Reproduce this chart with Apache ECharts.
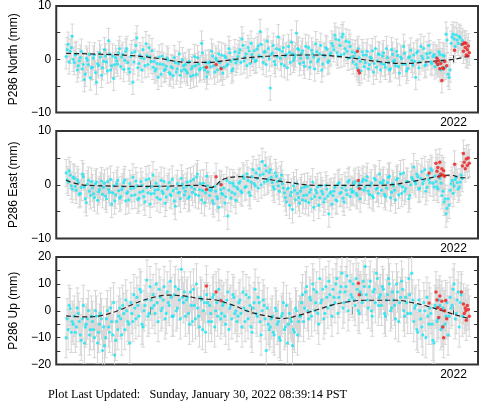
<!DOCTYPE html>
<html><head><meta charset="utf-8">
<script src="https://cdn.jsdelivr.net/npm/echarts@6/dist/echarts.min.js"></script>
<style>html,body{margin:0;padding:0;background:#fff}#c{width:481px;height:404px}</style>
</head><body><div id="c"></div>
<script>
// ---- axis data ----
const xMin = 2020.034, xMax = 2022.121;
const xTickValues = [2020.5, 2021, 2021.5, 2022];
const xTickLabels = [2022];
const yTicksNE = [-10, -5, 0, 5, 10];
const yLabelsNE = [-10, 0, 10];
const yTicksUp = [-20, -15, -10, -5, 0, 5, 10, 15, 20];
const yLabelsUp = [-20, -10, 0, 10, 20];
const panelNames = ['P286 North (mm)', 'P286 East (mm)', 'P286 Up (mm)'];
const footerText = 'Plot Last Updated:   Sunday, January 30, 2022 08:39:14 PST';

// ---- daily-solution samples, two interleaved sets (decimal year = start + index*step) ----
const sampleStart = 2020.083, sampleStart2 = 2020.088, sampleStep = 0.01;
const northVals = [0.5,2.8,1.5,4.3,
 -0.6,1.0,-1.2,0.3,-1.8,-3.8,0.2,-1.0,-3.5,
 -1.5,0.8,-4.3,-1.2,0.4,
 -1.6,1.8,-0.5,3.5,-2.0,0.6,-1.0,-0.3,1.2,
 -1.4,0.9,-0.2,2.0,-1.8,
 0.5,-4.3,1.4,4.0,-0.8,0.3,1.8,-1.2,0.7,2.2,-0.4,
 -1.5,-2.2,-0.8,0.4,-2.8,-1.0,-1.9,0.2,-2.5,-1.4,-3.1,-0.6,-1.8,1.0,-2.2,-1.2,
 -1.0,-2.6,-0.4,-1.8,-3.0,-1.2,0.3,-2.0,3.0,-1.5,-0.6,-2.4,
 -0.5,1.5,-1.2,0.2,-2.0,-0.6,0.8,
 -1.5,0.3,-0.9,1.2,-2.2,0.0,-0.7,
 0.5,1.8,3.8,-0.3,1.0,2.2,-0.8,0.9,1.6,-0.2,2.5,5.2,0.4,1.3,-1.0,2.0,
 -5.4,1.2,-0.4,2.0,4.2,0.2,1.5,-1.2,0.9,2.4,-0.6,1.0,0.3,4.9,1.8,
 0.2,1.6,-1.3,0.8,2.2,-0.5,1.0,-1.8,1.4,0.0,2.6,-0.9,0.6,1.9,-0.3,1.2,
 2.5,4.5,1.2,3.6,0.8,4.7,2.0,1.5,3.2,0.4,
 -0.5,1.2,-1.6,0.3,-2.2,0.8,
 -0.6,1.5,-1.0,0.2,-2.4,2.0,-0.3,0.9,
 -0.8,1.2,-1.5,0.3,-2.0,1.8,-0.4,-1.2,0.7,-2.6,0.1,2.4,-0.9,-1.7,0.5,-0.2,
 0.8,-3.4,1.5,-0.5,0.6,2.0,-1.0,0.3,1.2,-0.8,0.9,
 0.4,-1.0,0.9,-0.3,0.6,4.7,-2.8,
 -2.0,4.2,3.8,4.6,3.0,4.0,
 3.5,null,null,null,null];
const northVals2 = [1.8,-0.5,2.2,0.0,
 0.8,-2.0,-0.3,1.5,-1.0,-2.8,-0.2,0.9,-1.6,
 0.2,-2.5,-0.8,1.2,-3.0,
 -0.4,0.6,-2.2,1.0,-1.2,-3.6,0.3,-0.9,2.0,
 0.4,-1.9,1.5,-0.6,-2.4,
 1.2,-0.5,2.6,-1.6,0.8,-2.0,0.1,2.9,-1.0,0.4,1.6,
 -0.4,-1.8,-3.4,-0.9,0.6,-2.1,-1.3,-0.2,-2.8,-1.6,0.3,-2.4,-0.8,-3.0,-0.1,-1.9,
 -2.2,-0.6,-3.2,-1.4,0.5,-2.8,-0.9,-1.7,1.2,-2.0,-3.3,-0.7,
 -1.4,0.6,-2.4,-0.2,1.0,-1.6,-2.6,
 0.6,-1.2,2.0,-0.4,-1.8,1.4,-0.2,
 1.2,-0.6,2.6,0.4,-1.2,1.6,3.0,0.2,-0.4,1.9,0.7,2.8,-0.6,1.5,3.4,0.1,
 0.9,2.6,-1.0,0.5,1.8,-0.9,2.2,0.6,-1.6,1.3,3.2,-0.2,0.8,2.0,-0.8,
 1.1,-0.6,2.4,0.3,-1.5,1.7,0.4,2.9,-0.4,1.0,-2.0,0.8,2.2,-0.6,0.9,3.0,
 1.8,3.8,0.6,2.6,4.2,1.0,3.4,0.2,2.4,1.4,
 0.6,-1.0,2.0,-0.4,1.4,-1.4,
 0.8,-1.8,0.4,1.6,-0.8,-1.5,1.0,-2.0,
 0.6,-1.0,2.0,-0.6,-1.8,0.9,-0.2,1.5,-1.4,0.4,-0.9,1.1,-2.2,0.3,1.7,-1.1,
 -0.4,1.2,-1.6,2.4,0.1,-1.2,1.0,2.6,-0.5,0.5,-1.4,
 -0.6,1.4,-2.0,0.8,-1.5,3.6,-3.4,
 3.0,4.7,2.4,3.6,4.3,2.8,
 null,null,null,null];
const eastVals = [2.2,0.5,1.8,-0.8,
 1.2,-1.0,0.4,-1.6,2.0,-0.4,-3.3,0.8,-2.0,
 -0.6,-2.4,0.5,-1.3,-0.2,
 -1.8,0.3,-2.6,-0.9,1.0,-1.5,-3.0,0.2,-1.1,
 -2.2,-0.4,0.9,-1.6,-2.8,
 -0.7,1.4,-1.9,-0.2,-2.5,0.6,-1.2,-3.2,-0.5,1.1,-1.7,
 1.8,-1.0,-2.4,-0.3,0.8,-1.6,-3.4,-0.8,0.4,-2.0,-1.1,-4.0,0.2,-1.4,1.2,-0.6,
 -1.2,0.5,-2.2,-0.4,1.0,-1.8,2.0,-0.9,-2.8,0.3,-1.5,-0.2,
 -2.0,-0.8,-3.5,-1.2,-2.6,0.2,-1.6,
 -0.6,-2.2,-5.8,0.4,-1.4,-0.2,-2.9,
 -0.8,0.6,-1.5,1.2,-0.3,0.8,-2.0,1.5,0.2,2.2,-0.6,1.8,4.3,0.5,2.6,1.0,
 2.8,0.4,-0.8,1.6,-0.2,1.0,0.2,
 -1.5,-3.2,-0.6,-2.0,-4.6,-1.0,0.3,-2.4,
 -1.2,-2.8,-0.4,-1.9,-3.3,-0.9,0.5,-2.2,-1.5,-3.8,-0.2,-1.7,-2.6,-0.8,-5.4,-1.3,
 -2.0,-0.5,-3.0,0.4,-1.4,-2.5,-0.2,-1.8,0.8,-0.9,
 -1.2,0.6,-2.0,0.2,-0.8,1.0,
 -0.4,1.5,-1.8,0.3,-2.4,0.9,-0.6,2.0,
 -1.0,0.8,-2.2,0.4,1.6,-1.4,-0.2,-2.8,1.2,0.0,-1.6,2.2,-0.7,0.6,-2.0,1.4,
 3.3,0.2,1.5,-0.6,2.4,0.8,-1.2,1.8,0.4,2.6,-0.4,
 0.6,-0.8,1.2,-2.0,-3.2,-5.4,-2.6,
 -1.0,0.8,-0.2,1.4,-0.8,0.5,
 1.2,null,null,null,null];
const eastVals2 = [0.9,2.6,-0.2,1.4,
 -0.3,0.9,-1.8,-0.5,1.5,-2.6,0.1,-1.2,0.6,
 -1.7,0.2,-2.9,-0.9,0.7,
 -0.5,-2.1,0.6,-1.4,-3.6,-0.2,-1.9,0.8,-2.5,
 -0.9,0.4,-3.0,-1.3,0.2,
 -2.0,-0.6,0.7,-2.8,-1.4,-0.1,-2.2,0.9,-1.5,-3.6,-0.3,
 -1.6,0.3,-0.9,-2.7,-1.2,0.6,-2.3,-0.4,-1.8,1.0,-3.0,-0.7,-1.5,-2.6,0.1,-1.9,
 -0.3,-2.5,0.7,-1.4,-0.8,1.4,-2.0,0.2,-1.1,-3.3,1.6,-0.9,
 -1.1,-3.0,-0.3,-2.2,-4.2,-0.9,-1.8,
 -3.4,0.8,-1.0,-2.5,0.3,-1.7,-0.5,
 0.3,-1.2,1.6,-0.5,2.0,-1.4,0.5,2.8,-0.2,1.2,3.0,0.0,2.0,3.6,0.7,2.3,
 1.4,-0.4,2.2,0.6,-1.2,1.8,-0.6,
 -2.4,-0.8,-3.8,-1.4,-0.2,-2.8,-1.6,-3.4,
 -0.6,-2.0,-3.0,-0.3,-1.4,-2.6,-4.2,-1.0,-0.4,-2.4,-1.2,-3.2,-0.1,-2.1,-1.6,-3.6,
 -1.2,-2.8,0.1,-1.6,-0.6,-3.2,-1.0,0.5,-2.2,-1.4,
 0.2,-1.6,-0.4,-2.6,0.6,-1.0,
 0.8,-1.2,-0.2,-2.0,1.2,-0.8,-1.6,0.4,
 0.3,-1.8,-0.6,1.4,-2.4,0.2,-1.0,0.9,-1.9,2.0,-0.4,-1.2,0.6,-2.6,0.0,1.0,
 0.6,2.0,-0.8,1.2,0.2,2.8,-0.5,1.0,3.0,0.3,1.6,
 -0.4,1.8,0.3,-1.2,-2.6,-4.4,-3.8,
 0.2,-1.6,1.0,0.4,-0.4,1.8,
 null,null,null,null];
const upVals = [-10,-7,0.8,-4,
 -2,-6,-1,-9,-3,-12,-5,0,-7,
 -4,-10,-2,-8,-1,
 -14.8,-13,-3,-6,1,-9,-16.5,-4,-2,
 -3,2,-7,0,-5,
 3,-4,1,5,-2,7,-6,2,11.4,-1,4,
 6,-1,3,8,0,4,-3,7,2,5,-2,9,1,4,15.4,3,
 -2,5,-5,2,8,-3,1,-6,4,0,-8,3,
 2,-4,6,0,-2,4,-1,
 3,-5,7,1,-3,5,0,
 -2,4,-6,1,6,-3,2,-8,3,-1,5,-4,0,2,-14.8,-5,
 -6,-2,-9,0,-4,-11,-1,-7,2,-5,-3,-13,-8,0,-4,
 -2,6,1,9,-3,4,10,0,7,-5,3,8,-1,5,11,2,
 8,3,12,5,9,1,7,13,4,6,
 10,2,8,-1,6,11,
 16.5,4,9,0,7,3,12,5,
 2,8,-2,6,10,1,4,-3,7,3,11,0,5,-1,6,14,
 -4,2,-8,0,-6,3,-10,-2,1,-5,-12,
 1,-3,2,-6,0,-2,-9,
 5,2,10,-1,7,3,
 -2,null,null,null,null];
const upVals2 = [-3,2,-8,-5,
 -8,1,-4,-11,2,-6,-3,-9,-2,
 -7,0,-12,-5,-3,
 -6,-10,0,-8,-4,3,-11,-7,1,
 -9,-1,4,-4,-12,
 -1,6,-3,2,8,-5,0,4,-2,9,1,
 2,10,-4,5,1,9,-1,3,11,-2,6,0,8,-3,5,7,
 4,-1,7,-4,2,10,-2,5,-7,3,6,-4,
 -1,5,-6,3,8,-3,2,
 -2,4,-7,2,6,-1,-4,
 3,-1,7,-4,0,5,-6,1,8,-2,3,-9,4,-3,1,-7,
 -3,-8,1,-5,-10,-2,3,-6,-12,-1,-4,-7,1,-9,-2,
 3,-4,7,0,5,-2,8,3,-1,12,4,-3,9,1,6,-2,
 5,10,-1,7,14,3,9,0,11,5,
 4,12,0,7,3,9,
 6,1,11,-2,8,14,2,6,
 9,-1,4,12,0,7,2,10,-4,5,8,-2,3,12,-1,4,
 1,-7,4,-3,-9,0,5,-5,-1,-11,2,
 -4,4,-7,1,-5,3,-2,
 1,8,-3,4,-6,6,
 null,null,null,null];

// ---- one-sigma error bar half lengths (mm) ----
const sigmaNorth = 2.3, sigmaEast = 2.5, sigmaUp = 7.5;

// ---- red (rapid) solutions ----
const redNorthT = [2020.777,2020.825,2020.850,2021.524,2021.529,2021.534,2021.913,2021.918,2021.922,2021.927,2021.932,2021.937,2021.942,2021.947,2021.951,2021.956,2021.966,2022.005,2022.044,2022.049,2022.053,2022.058,2022.063,2022.068,2022.073,2022.078,2022.061,2022.070];
const redNorthV = [-1.5,-1.0,-1.8,1.5,-2.1,-2.6,-0.5,0.2,-1.0,-0.3,-1.8,-0.8,-4.0,-1.6,-1.8,-0.4,-1.2,1.7,2.8,1.5,3.1,2.2,0.8,1.8,2.5,1.2,3.0,0.6];
const redEastT = [2020.777,2020.825,2020.850,2021.529,2021.534,2021.879,2021.913,2021.918,2021.922,2021.927,2021.932,2021.937,2021.942,2021.947,2021.951,2021.956,2022.005,2022.044,2022.049,2022.053,2022.058,2022.063,2022.068,2022.073,2022.078];
const redEastV = [-0.9,1.5,0.0,0.8,-0.7,2.2,4.0,2.5,3.2,1.5,4.2,2.0,3.0,1.8,2.6,1.6,3.8,3.5,5.8,4.2,3.0,4.8,3.6,5.0,4.0];
const redUpT = [2020.777,2020.825,2020.850,2021.529,2021.534,2021.879,2021.913,2021.918,2021.922,2021.927,2021.932,2021.937,2021.942,2021.947,2021.951,2021.956,2021.961,2021.966,2022.039,2022.049,2022.053,2022.058,2022.063,2022.068,2022.073,2022.078,2022.061];
const redUpV = [9.2,7.0,3.7,10.2,6.0,2.9,7.0,4.0,1.2,-2.5,5.5,0.5,3.5,-6.0,-10.0,0.0,3.8,-3.0,7.0,2.5,-1.0,1.0,-3.5,2.0,0.5,-2.0,0.0];

// ---- model curves ----
const modelNorthT = [2020.083,2020.25,2020.40,2020.55,2020.665,2020.78,2020.89,2021.00,2021.15,2021.31,2021.47,2021.63,2021.76,2021.89,2022.01,2022.078];
const modelNorthV = [1.1,0.95,0.7,0.1,-0.55,-0.6,-0.15,0.35,0.7,0.8,0.35,-0.45,-0.8,-0.4,0.05,0.65];
const modelEastT = [2020.083,2020.180,2020.505,2020.748,2020.80,2020.86,2020.942,2021.053,2021.170,2021.316,2021.476,2021.641,2021.801,2021.913,2021.981,2022.044,2022.078];
const modelEastV = [0.85,-0.1,-0.3,-0.1,-0.5,1.0,1.5,1.15,0.5,-0.1,-0.1,-0.1,0.65,1.5,1.8,1.3,1.3];
const modelUpT = [2020.083,2020.180,2020.262,2020.345,2020.422,2020.505,2020.587,2020.665,2020.748,2020.830,2020.908,2020.990,2021.073,2021.155,2021.233,2021.316,2021.398,2021.476,2021.558,2021.641,2021.718,2021.801,2021.884,2021.961,2022.044,2022.078];
const modelUpV = [-1.9,-2.3,-1.7,0.2,2.7,4.8,5.8,5.5,4.5,3.9,2.1,-0.4,-1.9,-2.9,-1.7,0.2,2.1,3.3,3.9,3.9,3.9,2.9,1.4,-0.4,-2.3,-2.9];

// ---- build ----
const panels = [
  {vals: northVals, vals2: northVals2, sigma: sigmaNorth, rT: redNorthT, rV: redNorthV, mT: modelNorthT, mV: modelNorthV, min: -10, max: 10, ticks: yTicksNE, labels: yLabelsNE, top: 5},
  {vals: eastVals, vals2: eastVals2, sigma: sigmaEast, rT: redEastT, rV: redEastV, mT: modelEastT, mV: modelEastV, min: -10, max: 10, ticks: yTicksNE, labels: yLabelsNE, top: 131},
  {vals: upVals, vals2: upVals2, sigma: sigmaUp, rT: redUpT, rV: redUpV, mT: modelUpT, mV: modelUpV, min: -20, max: 20, ticks: yTicksUp, labels: yLabelsUp, top: 257}
];
const FONT = 'Liberation Sans';
const fmtNum = v => String(v).replace('-', '\u2212');

function renderBar(params, api) {
  const x = api.value(0), lo = api.value(1), hi = api.value(2);
  const p1 = api.coord([x, lo]), p2 = api.coord([x, hi]);
  const w = 2;
  const style = {stroke: '#d6d6d6', lineWidth: 1, fill: null};
  return {type: 'group', children: [
    {type: 'line', shape: {x1: p1[0], y1: p1[1], x2: p2[0], y2: p2[1]}, style: style},
    {type: 'line', shape: {x1: p1[0]-w, y1: p1[1], x2: p1[0]+w, y2: p1[1]}, style: style},
    {type: 'line', shape: {x1: p2[0]-w, y1: p2[1], x2: p2[0]+w, y2: p2[1]}, style: style}
  ]};
}

const grid = [], xAxis = [], yAxis = [], series = [];
panels.forEach((p, i) => {
  grid.push({left: 48, right: 3, top: p.top, height: 107.5, show: true, borderColor: '#333', borderWidth: 2, backgroundColor: '#fff'});
  const tick = {show: true, inside: true, length: 4, lineStyle: {color: '#333', width: 1}};
  xAxis.push({type: 'value', gridIndex: i, min: xMin, max: xMax, position: 'bottom',
    axisLine: {show: false}, splitLine: {show: false},
    axisTick: Object.assign({customValues: xTickValues}, tick),
    axisLabel: {customValues: xTickLabels, formatter: v => String(v), margin: 4, fontSize: 12, fontFamily: FONT, color: '#000'}});
  xAxis.push({type: 'value', gridIndex: i, min: xMin, max: xMax, position: 'top',
    axisLine: {show: false}, splitLine: {show: false},
    axisTick: Object.assign({customValues: xTickValues}, tick),
    axisLabel: {show: false}});
  yAxis.push({type: 'value', gridIndex: i, min: p.min, max: p.max, position: 'left',
    axisLine: {show: false}, splitLine: {show: false},
    axisTick: Object.assign({customValues: p.ticks}, tick),
    axisLabel: {customValues: p.labels, formatter: fmtNum, margin: 5, fontSize: 12, fontFamily: FONT, color: '#000'},
    name: panelNames[i], nameLocation: 'middle', nameGap: 33, nameRotate: 90,
    nameTextStyle: {fontSize: 12, fontFamily: FONT, color: '#000'}});
  yAxis.push({type: 'value', gridIndex: i, min: p.min, max: p.max, position: 'right',
    axisLine: {show: false}, splitLine: {show: false},
    axisTick: Object.assign({customValues: p.ticks}, tick),
    axisLabel: {show: false}});

  const cyan = [], bars = [];
  const addSet = (arr, start) => arr.forEach((v, k) => {
    if (v === null) return;
    const t = start + k * sampleStep;
    cyan.push([t, v]);
    bars.push([t, v - p.sigma, v + p.sigma]);
  });
  addSet(p.vals, sampleStart);
  addSet(p.vals2, sampleStart2);
  const red = p.rT.map((t, k) => [t, p.rV[k]]);
  red.forEach(d => bars.push([d[0], d[1] - p.sigma, d[1] + p.sigma]));
  const model = p.mT.map((t, k) => [t, p.mV[k]]);
  const xi = 2 * i, yi = 2 * i;
  series.push({type: 'custom', xAxisIndex: xi, yAxisIndex: yi, renderItem: renderBar, data: bars, clip: true, silent: true, z: 1});
  series.push({type: 'scatter', xAxisIndex: xi, yAxisIndex: yi, data: cyan, symbol: 'circle', symbolSize: 3.2, itemStyle: {color: '#14e6f5'}, clip: true, z: 2});
  series.push({type: 'line', xAxisIndex: xi, yAxisIndex: yi, data: model, smooth: 0.4, showSymbol: false, lineStyle: {color: '#222', width: 1.2, type: [5, 3]}, clip: true, z: 3});
  series.push({type: 'scatter', xAxisIndex: xi, yAxisIndex: yi, data: red, symbol: 'circle', symbolSize: 3.5, itemStyle: {color: '#f01a1a'}, clip: true, z: 4});
});

const chart = echarts.init(document.getElementById('c'), null, {renderer: 'canvas'});
chart.setOption({
  animation: false,
  backgroundColor: '#fff',
  grid: grid, xAxis: xAxis, yAxis: yAxis, series: series,
  graphic: [{type: 'text', left: 48, top: 389, style: {text: footerText, font: '12.3px "Liberation Serif"', fill: '#000'}}]
});
</script>
</body></html>
